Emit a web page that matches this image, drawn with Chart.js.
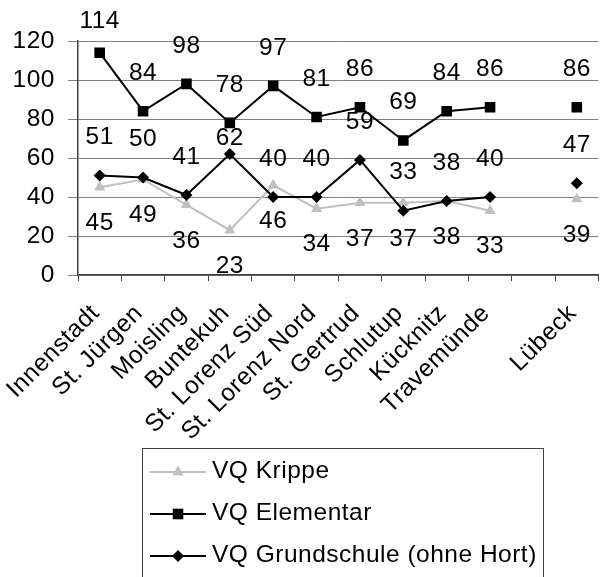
<!DOCTYPE html>
<html>
<head>
<meta charset="utf-8">
<script src="https://cdn.jsdelivr.net/npm/chart.js@4.4.1/dist/chart.umd.min.js"></script>
<style>
  html, body { margin: 0; padding: 0; background: #fff; overflow: hidden; }
  #wrap { width: 606px; height: 577px; }
</style>
</head>
<body>
<div id="wrap"><canvas id="chart" width="606" height="577"></canvas></div>
<script>
// Versorgungsquoten nach Stadtteil (leere Kategorie trennt Lübeck gesamt ab)
const districts = ['Innenstadt', 'St. Jürgen', 'Moisling', 'Buntekuh', 'St. Lorenz Süd', 'St. Lorenz Nord',
    'St. Gertrud', 'Schlutup', 'Kücknitz', 'Travemünde', '', 'Lübeck'];
const vqKrippe = [45, 49, 36, 23, 46, 34, 37, 37, 38, 33, null, 39];
const vqElementar = [114, 84, 98, 78, 97, 81, 86, 69, 84, 86, null, 86];
const vqGrundschule = [51, 50, 41, 62, 40, 40, 59, 33, 38, 40, null, 47];
const yMin = 0;
const yMax = 120;
const yStep = 20;

const FONT = { family: "'Liberation Sans', Arial, sans-serif", size: 24.5 };
const fontCss = `${FONT.size}px ${FONT.family}`;

/**
 * Draw a marker like Chart.js does for triangle / rect / rectRot
 */
function drawMarker(ctx, style, x, y, r, color) {
    ctx.fillStyle = color;
    ctx.beginPath();
    if (style === 'triangle') {
        const h = 1.5 * r, half = r * Math.sqrt(3) / 2;
        ctx.moveTo(x, y - r);
        ctx.lineTo(x + half, y - r + h);
        ctx.lineTo(x - half, y - r + h);
    } else if (style === 'rect') {
        const s = r * Math.SQRT1_2;
        ctx.rect(x - s, y - s, 2 * s, 2 * s);
    } else {
        ctx.moveTo(x, y - r);
        ctx.lineTo(x + r, y);
        ctx.lineTo(x, y + r);
        ctx.lineTo(x - r, y);
    }
    ctx.closePath();
    ctx.fill();
}

/**
 * Slightly wider text, like the original export
 */
const wideText = {
    id: 'wideText',
    beforeDraw(chart) {
        if ('letterSpacing' in chart.ctx) chart.ctx.letterSpacing = '0.5px';
    }
};

/**
 * Value labels above (or below) each point
 */
const valueLabels = {
    id: 'valueLabels',
    afterDatasetsDraw(chart) {
        const ctx = chart.ctx;
        const sets = chart.data.datasets;
        ctx.save();
        ctx.font = fontCss;
        ctx.fillStyle = '#000';
        ctx.textAlign = 'center';
        ctx.textBaseline = 'middle';
        sets.forEach((ds, di) => {
            const meta = chart.getDatasetMeta(di);
            meta.data.forEach((pt, i) => {
                const v = ds.data[i];
                if (v == null) return;
                let y = ds.labelBelow ? pt.y + 36 : pt.y - 38;
                // keep clear of another series' marker
                sets.forEach((other, oi) => {
                    if (oi === di || other.data[i] == null) return;
                    const op = chart.getDatasetMeta(oi).data[i];
                    if (Math.abs(op.y - y) < 15) y = op.y + 15;
                });
                y = Math.max(y, 21);
                ctx.fillText(String(v), pt.x, y);
            });
        });
        ctx.restore();
    }
};

/**
 * Boxed legend under the chart, one series per row
 */
const boxLegend = {
    id: 'boxLegend',
    afterDraw(chart) {
        const ctx = chart.ctx;
        ctx.save();
        ctx.strokeStyle = '#404040';
        ctx.lineWidth = 1;
        ctx.strokeRect(142.5, 448.5, 401, 150);
        chart.data.datasets.forEach((ds, i) => {
            const y = 472 + i * 42;
            ctx.strokeStyle = ds.borderColor;
            ctx.lineWidth = ds.borderWidth;
            ctx.beginPath();
            ctx.moveTo(150, y);
            ctx.lineTo(206, y);
            ctx.stroke();
            drawMarker(ctx, ds.pointStyle, 178, y, ds.pointRadius, ds.pointBackgroundColor);
            ctx.font = fontCss;
            ctx.fillStyle = '#000';
            ctx.textAlign = 'left';
            ctx.textBaseline = 'middle';
            ctx.fillText(ds.label, 212, y - 1);
        });
        ctx.restore();
    }
};

new Chart(document.getElementById('chart').getContext('2d'), {
    type: 'line',
    data: {
        labels: districts,
        datasets: [
            {
                label: 'VQ Krippe',
                data: vqKrippe,
                borderColor: '#c0c0c0',
                borderWidth: 2,
                pointStyle: 'triangle',
                pointRadius: 6.5,
                pointBackgroundColor: '#c0c0c0',
                pointBorderColor: '#c0c0c0',
                pointBorderWidth: 0,
                labelBelow: true,
                order: 2,
            },
            {
                label: 'VQ Elementar',
                data: vqElementar,
                borderColor: '#000',
                borderWidth: 2,
                pointStyle: 'rect',
                pointRadius: 7.5,
                pointBackgroundColor: '#000',
                pointBorderColor: '#000',
                pointBorderWidth: 0,
                order: 1,
            },
            {
                label: 'VQ Grundschule (ohne Hort)',
                data: vqGrundschule,
                borderColor: '#000',
                borderWidth: 2,
                pointStyle: 'rectRot',
                pointRadius: 6,
                pointBackgroundColor: '#000',
                pointBorderColor: '#000',
                pointBorderWidth: 0,
                order: 0,
            }
        ]
    },
    options: {
        responsive: false,
        animation: false,
        devicePixelRatio: 1,
        spanGaps: false,
        layout: { padding: { top: 41, left: 0, right: 0, bottom: 0 } },
        plugins: {
            legend: { display: false },
            tooltip: { enabled: false },
        },
        scales: {
            x: {
                offset: true,
                grid: { display: true, drawOnChartArea: false, offset: true, color: '#404040', tickLength: 6 },
                border: { color: '#404040', width: 1.5 },
                ticks: {
                    autoSkip: false, minRotation: 45, maxRotation: 45,
                    font: FONT, color: '#000', padding: 18, labelOffset: -4,
                },
                afterFit(s) { s.paddingLeft = 0; s.paddingRight = 0; s.height = 302; },
            },
            y: {
                min: yMin,
                max: yMax,
                grid: { color: '#808080', tickLength: 10 },
                border: { color: '#404040', width: 1.5 },
                ticks: { stepSize: yStep, font: FONT, color: '#000', padding: 13 },
                afterFit(s) { s.width = 78; },
            }
        }
    },
    plugins: [wideText, valueLabels, boxLegend]
});
</script>
</body>
</html>
